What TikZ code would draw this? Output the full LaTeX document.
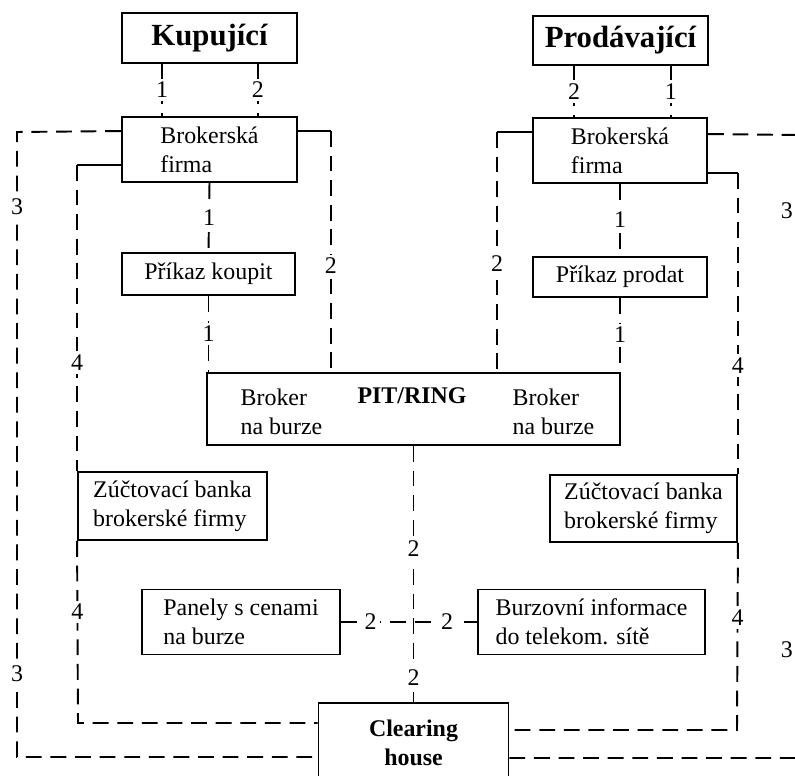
\documentclass[tikz,border=0pt]{standalone}
\usepackage{fontspec}
\setmainfont{Liberation Serif}
\begin{document}
\begin{tikzpicture}[x=0.02cm,y=-0.02cm,
  box/.style={draw,line width=1.1pt,inner sep=0pt,align=left,font=\fontsize{13.6}{16.5}\selectfont},
  head/.style={box,align=center,font=\fontsize{17.5}{20}\selectfont\bfseries},
  txt/.style={inner sep=0pt,align=left,font=\fontsize{13.6}{16.5}\selectfont},
  lbl/.style={fill=white,inner sep=2pt,font=\fontsize{13.6}{16}\selectfont},
  link/.style={line width=1.1pt,dash pattern=on 9pt off 5pt},
  stub/.style={line width=1.1pt}]
\useasboundingbox (0,0) rectangle (795,776);
% boxes
\node[head,minimum width=3.5cm,minimum height=1cm] (kup) at (209.5,38) {Kupující};
\node[head,minimum width=3.5cm,minimum height=0.98cm] (prod) at (620.5,40.5) {Prodávající};
\node[box,minimum width=3.5cm,minimum height=1.3cm] (bl) at (209.5,149.5) {Brokerská\\firma};
\node[box,minimum width=3.48cm,minimum height=1.3cm] (br) at (620,150.5) {Brokerská\\firma};
\node[box,minimum width=3.46cm,minimum height=0.84cm] (pk) at (208.5,274) {Příkaz koupit};
\node[box,minimum width=3.48cm,minimum height=0.8cm] (pp) at (620,277) {Příkaz prodat};
\node[box,minimum width=8.26cm,minimum height=1.44cm] (pit) at (413.5,409) {};
\node[txt] (bk1) at (281.5,412) {Broker\\na burze};
\node[txt,font=\fontsize{13.6}{16.5}\selectfont\bfseries] (ring) at (412,396) {PIT/RING};
\node[txt] (bk2) at (553.5,412) {Broker\\na burze};
\node[box,minimum width=3.78cm,minimum height=1.36cm] (zl) at (172.5,506) {Zúčtovací banka\\brokerské firmy};
\node[box,minimum width=3.74cm,minimum height=1.34cm] (zr) at (643.5,508.5) {Zúčtovací banka\\brokerské firmy};
\node[box,minimum width=3.96cm,minimum height=1.3cm] (pan) at (241,622) {Panely s cenami\\na burze};
\node[box,minimum width=4.54cm,minimum height=1.3cm] (bur) at (591.5,622) {Burzovní informace\\do telekom. sítě};
\node[head,font=\fontsize{13.6}{16.5}\selectfont\bfseries,minimum width=3.8cm,minimum height=1.6cm] (ch) at (413.5,743) {Clearing\\house};
% corners of the outer lines
\coordinate (o3a) at (17,132);
\coordinate (o3b) at (17,757);
\coordinate (o3c) at (797,135);
\coordinate (o3d) at (797,758);
\coordinate (o4b) at (78,723);
\coordinate (o4d) at (737,730);
% 1 and 2 from the clients
\draw[link] ([xshift=0.82cm]kup.south west) -- node[lbl]{1} ([xshift=0.82cm]kup.south west |- bl.north);
\draw[link] ([xshift=-0.8cm]kup.south east) -- node[lbl]{2} ([xshift=-0.8cm]kup.south east |- bl.north);
\draw[link] ([xshift=0.84cm]prod.south west) -- node[lbl]{2} ([xshift=0.84cm]prod.south west |- br.north);
\draw[link] ([xshift=-0.76cm]prod.south east) -- node[lbl]{1} ([xshift=-0.76cm]prod.south east |- br.north);
% orders
\draw[link] (bl.south) -- node[lbl]{1} (pk.north);
\draw[link] (br.south) -- node[lbl]{1} (pp.north);
\draw[link] (pk.south) -- node[lbl]{1} (pk.south |- pit.north);
\draw[link] (pp.south) -- node[lbl]{1} (pp.south |- pit.north);
% 2 to the pit
\draw[stub] ([yshift=-0.3cm]bl.north east) -- ++(33,0) coordinate (c1);
\draw[link] (c1) -- node[lbl,pos=0.56]{2} (c1 |- pit.north);
\draw[stub] ([yshift=-0.3cm]br.north west) -- ++(-35,0) coordinate (c2);
\draw[link] (c2) -- node[lbl,pos=0.55]{2} (c2 |- pit.north);
% 3 to clearing house
\draw[link] ([yshift=-0.3cm]bl.north west) -- (o3a) -- node[lbl,pos=0.12]{3} node[lbl,pos=0.866]{3} (o3b) -- (o3b -| ch.west);
\draw[link] ([yshift=-0.34cm]br.north east) -- (o3c) -- (o3d) -- (o3d -| ch.east);
\node[lbl,anchor=east,inner sep=1pt] (r3a) at (795,211) {3};
\node[lbl,anchor=east,inner sep=1pt] (r3b) at (795,650) {3};
% 4 over the banks
\draw[stub] ([yshift=0.36cm]bl.south west) -- ++(-44,0) coordinate (c3);
\draw[link] (c3) -- node[lbl,pos=0.646]{4} (c3 |- zl.north);
\draw[link] (zl.south west) -- node[lbl,pos=0.39]{4} (o4b) -- (o4b -| ch.west);
\draw[stub] ([yshift=0.22cm]br.south east) -- ++(30,0) coordinate (c4);
\draw[link] (c4) -- node[lbl,pos=0.64]{4} (c4 |- zr.north);
\draw[link] (zr.south east) -- node[lbl,pos=0.4]{4} (o4d) -- (o4d -| ch.east);
% prices
\draw[link] (pit.south) -- node[lbl,pos=0.4]{2} node[lbl,pos=0.903]{2} (ch.north);
\draw[link] (pan.east) -- node[lbl,pos=0.217]{2} node[lbl,pos=0.78]{2} (bur.west);
\end{tikzpicture}
\end{document}
